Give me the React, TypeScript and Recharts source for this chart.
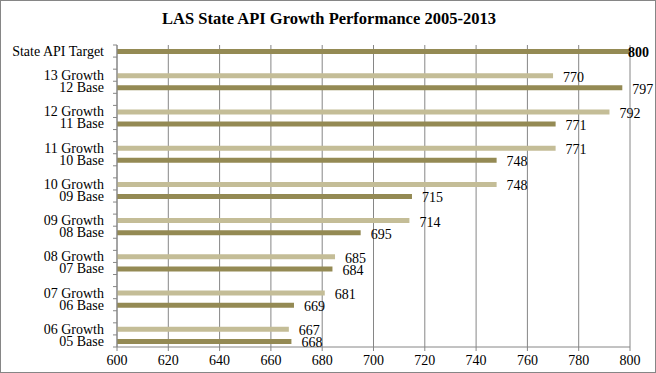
import { BarChart, Bar, XAxis, YAxis, CartesianGrid, Cell, LabelList } from 'recharts';

const categories = [
  'State API Target', 'gap1',
  '13 Growth', '12 Base', 'gap2',
  '12 Growth', '11 Base', 'gap3',
  '11 Growth', '10 Base', 'gap4',
  '10 Growth', '09 Base', 'gap5',
  '09 Growth', '08 Base', 'gap6',
  '08 Growth', '07 Base', 'gap7',
  '07 Growth', '06 Base', 'gap8',
  '06 Growth', '05 Base',
];

const scores = [
  800, null,
  770, 797, null,
  792, 771, null,
  771, 748, null,
  748, 715, null,
  714, 695, null,
  685, 684, null,
  681, 669, null,
  667, 668,
];

const xTicks = [600, 620, 640, 660, 680, 700, 720, 740, 760, 780, 800];

const data = categories.map((name, i) => ({ name, value: scores[i] }));

const W = 656;
const H = 373;
const PLOT_LEFT = 117;
const PLOT_TOP = 45;
const PLOT_BOTTOM = 347;
const band = (PLOT_BOTTOM - PLOT_TOP) / categories.length;

const LIGHT = '#c4bd97';
const DARK = '#948a54';
const GRID = '#868686';
const FONT = '"Liberation Serif", serif';

function YTick(props: any) {
  const { x, y, payload, index } = props;
  const label = String(payload.value).startsWith('gap') ? '' : payload.value;
  const top = y - band / 2;
  const last = index === categories.length - 1;
  return (
    <g>
      <line x1={PLOT_LEFT - 4} x2={PLOT_LEFT} y1={top} y2={top} stroke={GRID} />
      {last && <line x1={PLOT_LEFT - 4} x2={PLOT_LEFT} y1={y + band / 2} y2={y + band / 2} stroke={GRID} />}
      <text x={x} y={y} dy="0.35em" textAnchor="end" fontSize={14} fontFamily={FONT} fill="#000">
        {label}
      </text>
    </g>
  );
}

function ValueLabel(props: any) {
  const { x, y, width, height, value, index } = props;
  if (value == null) return null;
  const target = index === 0;
  return (
    <text
      x={target ? x + width - 2 : x + width + 10}
      y={y + height / 2 + 1}
      dy="0.35em"
      fontSize={14}
      fontWeight={target ? 'bold' : 'normal'}
      fontFamily={FONT}
      fill="#000"
    >
      {value}
    </text>
  );
}

export default function App() {
  return (
    <div
      style={{
        position: 'absolute',
        left: 0,
        top: 0,
        width: W,
        height: H,
        boxSizing: 'border-box',
        border: '1px solid #868686',
        background: '#fff',
      }}
    >
      <div
        style={{
          position: 'absolute',
          left: 0,
          top: 8,
          width: W,
          textAlign: 'center',
          fontFamily: FONT,
          fontWeight: 'bold',
          fontSize: 16.5,
          lineHeight: '20px',
          color: '#000',
        }}
      >
        LAS State API Growth Performance 2005-2013
      </div>
      <div style={{ position: 'absolute', left: -1, top: -1 }}>
        <BarChart
          width={W}
          height={H}
          data={data}
          layout="vertical"
          margin={{ top: PLOT_TOP, right: W - 630, bottom: 0, left: 0 }}
        >
          <CartesianGrid horizontal={false} stroke={GRID} />
          <XAxis
            type="number"
            domain={[600, 800]}
            ticks={xTicks}
            height={H - PLOT_BOTTOM}
            stroke={GRID}
            tickSize={4}
            tickMargin={4}
            tick={{ fontSize: 14, fontFamily: FONT, fill: '#000' }}
          />
          <YAxis
            type="category"
            dataKey="name"
            width={PLOT_LEFT}
            stroke={GRID}
            tickLine={false}
            tickSize={4}
            tickMargin={9}
            interval={0}
            tick={<YTick />}
          />
          <Bar dataKey="value" barSize={5} isAnimationActive={false}>
            {data.map((d, i) => (
              <Cell key={i} fill={d.name.includes('Growth') ? LIGHT : DARK} />
            ))}
            <LabelList dataKey="value" content={<ValueLabel />} />
          </Bar>
        </BarChart>
      </div>
    </div>
  );
}
